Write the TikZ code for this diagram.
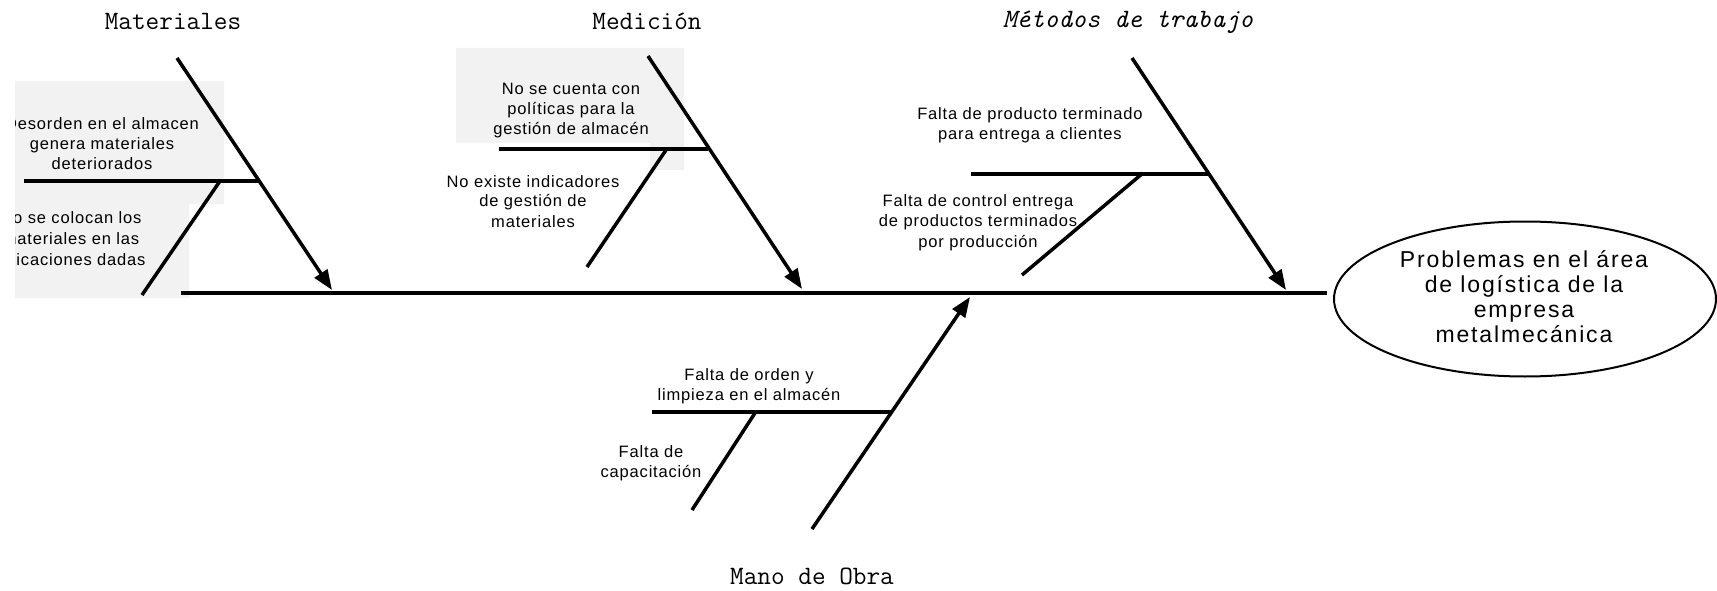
\documentclass[tikz,border=0pt]{standalone}
\usepackage{fontspec}
\newfontfamily\bodyfont[LetterSpace=5]{Liberation Sans}
\newfontfamily\bigfont[LetterSpace=8]{Liberation Sans}
\usetikzlibrary{arrows.meta,shapes.geometric}
\definecolor{boxgray}{RGB}{242,242,242}
\tikzset{
  bone/.style={line width=3.5pt},
  spineline/.style={line width=4pt},
  arr/.style={-{Triangle[length=20pt,width=15pt]}},
  cause/.style={anchor=base, inner sep=0pt, font=\fontsize{16.5}{20}\bodyfont},
  cat/.style={anchor=base, inner sep=0pt, font=\fontsize{26.5}{26}\ttfamily},
  effectbox/.style={draw, ellipse, line width=2pt, minimum width=382pt, minimum height=155pt, inner sep=0pt},
}
\newcommand{\blk}[1]{\begin{tabular}[t]{@{}c@{}}#1\end{tabular}}
\begin{document}
\begin{tikzpicture}[x=1pt,y=-1pt]
\useasboundingbox (0,0) rectangle (1717,591);
% gray text boxes
\fill[boxgray] (15,81) -- (224,81) -- (224,204) -- (189,204) -- (189,298) -- (15,298) -- cycle;
\fill[boxgray] (456,48) -- (684,48) -- (684,170) -- (650,170) -- (650,143) -- (456,143) -- cycle;

% category labels
\node[cat] (mat) at (173,30) {Materiales};
\node[cat] (med) at (647,30) {Medición};
\node[cat, font=\fontsize{26.5}{26}\ttfamily\itshape] (met) at (1128,28) {Métodos de trabajo};
\node[cat] (mano) at (812,584) {Mano de Obra};

% effect
\node[effectbox] (effect) at (1525,299) {};
\node[anchor=base, inner sep=0pt, font=\fontsize{23}{25}\bigfont] (efftext) at (1524,267)
  {\blk{Problemas en el área\\de logística de la\\empresa\\metalmecánica}};

% coordinates
\coordinate (spineL) at (181,292.5);
\coordinate (spineR) at (1327,292.5);
\coordinate (matTop) at (177,58);   \coordinate (matTip) at (332,290);
\coordinate (matHL) at (24,181);    \coordinate (matHR) at (258,181);
\coordinate (matSA) at (220,181);   \coordinate (matSB) at (142,295);
\coordinate (medTop) at (648,56);   \coordinate (medTip) at (802,289);
\coordinate (medHL) at (499,149);   \coordinate (medHR) at (708,149);
\coordinate (medSA) at (666,150);   \coordinate (medSB) at (587,267);
\coordinate (metTop) at (1132,58);  \coordinate (metTip) at (1286,290);
\coordinate (metHL) at (971,174);   \coordinate (metHR) at (1209,174);
\coordinate (metSA) at (1143,173);  \coordinate (metSB) at (1022,275);
\coordinate (manBot) at (812,529);  \coordinate (manTip) at (970,297);
\coordinate (manHL) at (652,412);   \coordinate (manHR) at (891,412);
\coordinate (manSA) at (755,413);   \coordinate (manSB) at (692,510);

% cause texts
\begin{scope}
\clip (15,0) rectangle (1717,591);
\node[cause] (c1) at (102,130) {\blk{Desorden en el almacen\\genera materiales\\deteriorados}};
\node[cause, font=\fontsize{16.5}{21}\bodyfont] (c2) at (71,223) {\blk{No se colocan los\\materiales en las\\ubicaciones dadas}};
\end{scope}
\node[cause] (c3) at (571,95) {\blk{No se cuenta con\\políticas para la\\gestión de almacén}};
\node[cause] (c4) at (533,187) {\blk{No existe indicadores\\de gestión de\\materiales}};
\node[cause, font=\fontsize{16.5}{19.5}\bodyfont] (c5) at (1030,120) {\blk{Falta de producto terminado\\para entrega a clientes}};
\node[cause] (c6) at (978,207) {\blk{Falta de control entrega\\de productos terminados\\por producción}};
\node[cause] (c7) at (749,380) {\blk{Falta de orden y\\limpieza en el almacén}};
\node[cause] (c8) at (651,457) {\blk{Falta de\\capacitación}};

% bones
\draw[spineline] (spineL) -- (spineR);
\draw[bone, arr] (matTop) -- (matTip);
\draw[bone] (matHL) -- (matHR);
\draw[bone] (matSA) -- (matSB);
\draw[bone, arr] (medTop) -- (medTip);
\draw[bone] (medHL) -- (medHR);
\draw[bone] (medSA) -- (medSB);
\draw[bone, arr] (metTop) -- (metTip);
\draw[bone] (metHL) -- (metHR);
\draw[bone] (metSA) -- (metSB);
\draw[bone, arr] (manBot) -- (manTip);
\draw[bone] (manHL) -- (manHR);
\draw[bone] (manSA) -- (manSB);
\end{tikzpicture}
\end{document}
